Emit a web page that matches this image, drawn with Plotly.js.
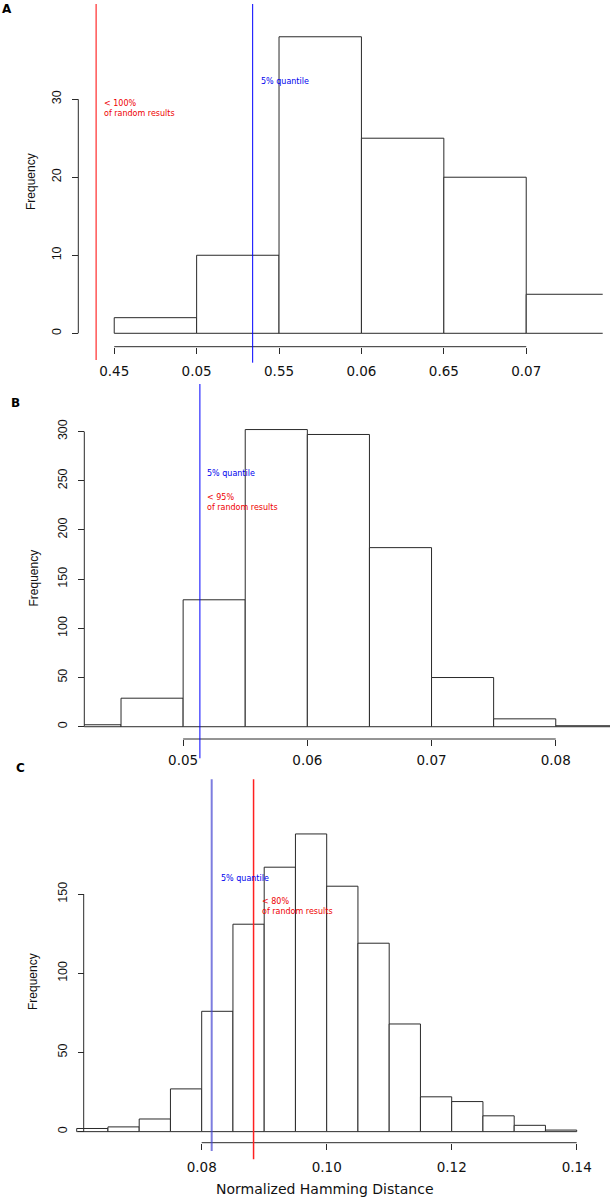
<!DOCTYPE html>
<html><head><meta charset="utf-8">
<script src="https://cdn.plot.ly/plotly-3.0.1.min.js"></script>
<style>html,body{margin:0;padding:0;background:#fff}</style>
</head><body><div id="chart" style="width:610px;height:1199px"></div>
<script>
// ---------- data ----------
const binWidth = 0.005;

// Panel A
const binStartsA = [0.045, 0.050, 0.055, 0.060, 0.065, 0.070];
const countsA = [2, 10, 38, 25, 20, 5];
const xTicksA = [0.045, 0.050, 0.055, 0.060, 0.065, 0.070];
const xTickLabelsA = ['0.45', '0.05', '0.55', '0.06', '0.65', '0.07'];
const yTicksA = [0, 10, 20, 30];
const redValueA = 0.0439;
const blueValueA = 0.0534;
const redTextA = '< 100%<br>of random results';

// Panel B (the red threshold sits under the blue line and is not visible)
const binStartsB = [0.040, 0.045, 0.050, 0.055, 0.060, 0.065, 0.070, 0.075, 0.080];
const countsB = [2, 29, 129, 302, 297, 182, 50, 8, 1];
const xTicksB = [0.05, 0.06, 0.07, 0.08];
const xTickLabelsB = ['0.05', '0.06', '0.07', '0.08'];
const yTicksB = [0, 50, 100, 150, 200, 250, 300];
const blueValueB = 0.05135;
const redTextB = '< 95%<br>of random results';

// Panel C
const binStartsC = [0.060, 0.065, 0.070, 0.075, 0.080, 0.085, 0.090, 0.095,
                    0.100, 0.105, 0.110, 0.115, 0.120, 0.125, 0.130, 0.135];
const countsC = [2, 3, 8, 27, 76, 131, 167, 188, 155, 119, 68, 22, 19, 10, 4, 1];
const xTicksC = [0.08, 0.10, 0.12, 0.14];
const xTickLabelsC = ['0.08', '0.10', '0.12', '0.14'];
const yTicksC = [0, 50, 100, 150];
const redValueC = 0.0883;
const blueValueC = 0.0816;
const redTextC = '< 80%<br>of random results';

const blueText = '5% quantile';
const yLabel = 'Frequency';
const xLabelC = 'Normalized Hamming Distance';
const panelLabels = ['A', 'B', 'C'];

// ---------- layout helpers ----------
const W = 610, H = 1199;
const fx = p => p / W;
const fy = p => 1 - p / H;
const INK = '#2a2a2a';
const tickFontX = {family: 'DejaVu Sans', size: 13.5, color: '#111'};
const tickFontY = {family: 'Liberation Sans', size: 12.5, color: '#111'};
const noteFont = (c) => ({family: 'DejaVu Sans', size: 8, color: c});

function barTrace(starts, counts, xa, ya) {
  return {
    type: 'bar', x: starts, y: counts, width: binWidth, offset: 0,
    xaxis: xa, yaxis: ya,
    marker: {color: 'white', line: {color: INK, width: 1}},
    hoverinfo: 'skip', showlegend: false
  };
}

function xAxis(domPx, range, posPx, ticks, labels, standoff) {
  return {
    domain: [fx(domPx[0]), fx(domPx[1])], range: range,
    anchor: 'free', position: fy(posPx),
    showline: false, showgrid: false, zeroline: false,
    ticks: 'outside', ticklen: 6, tickwidth: 1, tickcolor: INK,
    tickmode: 'array', tickvals: ticks, ticktext: labels,
    tickfont: tickFontX, ticklabelstandoff: standoff, fixedrange: true
  };
}
function yAxis(domPx, range, posPx, ticks) {
  return {
    domain: [fy(domPx[1]), fy(domPx[0])], range: range,
    anchor: 'free', position: fx(posPx),
    showline: false, showgrid: false, zeroline: false,
    ticks: 'outside', ticklen: 6, tickwidth: 1, tickcolor: INK,
    tickmode: 'array', tickvals: ticks, ticktext: ticks.map(String),
    tickangle: -90, tickfont: tickFontY, ticklabelstandoff: 6, fixedrange: true
  };
}
function xLine(xa, ticks, posPx) {
  return {type: 'line', xref: xa, yref: 'paper',
    x0: ticks[0], x1: ticks[ticks.length - 1], y0: fy(posPx), y1: fy(posPx),
    line: {color: INK, width: 1}};
}
function yLine(ya, ticks, posPx) {
  return {type: 'line', xref: 'paper', yref: ya,
    x0: fx(posPx), x1: fx(posPx), y0: ticks[0], y1: ticks[ticks.length - 1],
    line: {color: INK, width: 1}};
}
function vLine(xa, value, topPx, botPx, color, width) {
  return {type: 'line', xref: xa, yref: 'paper',
    x0: value, x1: value, y0: fy(botPx), y1: fy(topPx),
    line: {color: color, width: width}};
}
function note(text, xPx, yPx, color) {
  return {text: text, xref: 'paper', yref: 'paper', x: fx(xPx), y: fy(yPx),
    xanchor: 'left', yanchor: 'middle', align: 'left', showarrow: false,
    font: noteFont(color), borderpad: 0};
}
function ylab(xPx, yPx) {
  return {text: yLabel, xref: 'paper', yref: 'paper', x: fx(xPx), y: fy(yPx),
    xanchor: 'center', yanchor: 'middle', textangle: -90, showarrow: false,
    font: {family: 'Liberation Sans', size: 12, color: '#111'}};
}
function plab(text, xPx, yPx) {
  return {text: '<b>' + text + '</b>', xref: 'paper', yref: 'paper', x: fx(xPx), y: fy(yPx),
    xanchor: 'center', yanchor: 'middle', showarrow: false,
    font: {family: 'DejaVu Sans', size: 12, color: '#000'}};
}

const data = [
  barTrace(binStartsA, countsA, 'x', 'y'),
  barTrace(binStartsB, countsB, 'x2', 'y2'),
  barTrace(binStartsC, countsC, 'x3', 'y3')
];

const layout = {
  width: W, height: H,
  margin: {l: 0, r: 0, t: 0, b: 0},
  paper_bgcolor: 'white', plot_bgcolor: 'rgba(0,0,0,0)',
  bargap: 0, hovermode: false, showlegend: false,
  xaxis:  xAxis([78.3, 602.7], [0.04282, 0.07464], 346.7, xTicksA, xTickLabelsA, 6),
  yaxis:  yAxis([4, 362], [-3.68, 42.2], 78.3, yTicksA),
  xaxis2: xAxis([84.3, 610], [0.042043, 0.084368], 739, xTicksB, xTickLabelsB, 3),
  yaxis2: yAxis([384, 759], [-32.8, 348.3], 84.3, yTicksB),
  xaxis3: xAxis([75, 590], [0.05973, 0.14213], 1142.7, xTicksC, xTickLabelsC, 6),
  yaxis3: yAxis([779, 1160], [-17.9, 222.7], 83.7, yTicksC),
  shapes: [
    xLine('x', xTicksA, 346.7), yLine('y', yTicksA, 78.3),
    xLine('x2', xTicksB, 739), yLine('y2', yTicksB, 84.3),
    xLine('x3', xTicksC, 1142.7), yLine('y3', yTicksC, 83.7),
    vLine('x', redValueA, 4, 360, '#ff0000', 1),
    vLine('x', blueValueA, 4, 362.7, '#0000ff', 1),
    vLine('x2', blueValueB, 384, 758.3, '#0000ff', 1),
    vLine('x3', blueValueC, 779.3, 1151, 'rgba(70,70,210,0.7)', 2),
    vLine('x3', redValueC, 779.3, 1159.3, '#ff2020', 1.5)
  ],
  annotations: [
    plab(panelLabels[0], 7, 8.5), plab(panelLabels[1], 15, 403), plab(panelLabels[2], 20, 768),
    ylab(31, 182), ylab(33, 578.5), ylab(33, 982),
    note(redTextA, 103, 108.8, '#ee0000'),
    note(blueText, 259.5, 81.7, '#0000ee'),
    note(blueText, 206, 473.7, '#0000ee'),
    note(redTextB, 206, 502.2, '#ee0000'),
    note(blueText, 219.5, 878, '#0000ee'),
    note(redTextC, 260.5, 906.2, '#ee0000'),
    {text: xLabelC, xref: 'paper', yref: 'paper', x: fx(325), y: fy(1189.3),
     xanchor: 'center', yanchor: 'middle', showarrow: false,
     font: {family: 'DejaVu Sans', size: 14, color: '#111'}}
  ]
};

Plotly.newPlot('chart', data, layout, {staticPlot: true, displayModeBar: false});
</script>
</body></html>
